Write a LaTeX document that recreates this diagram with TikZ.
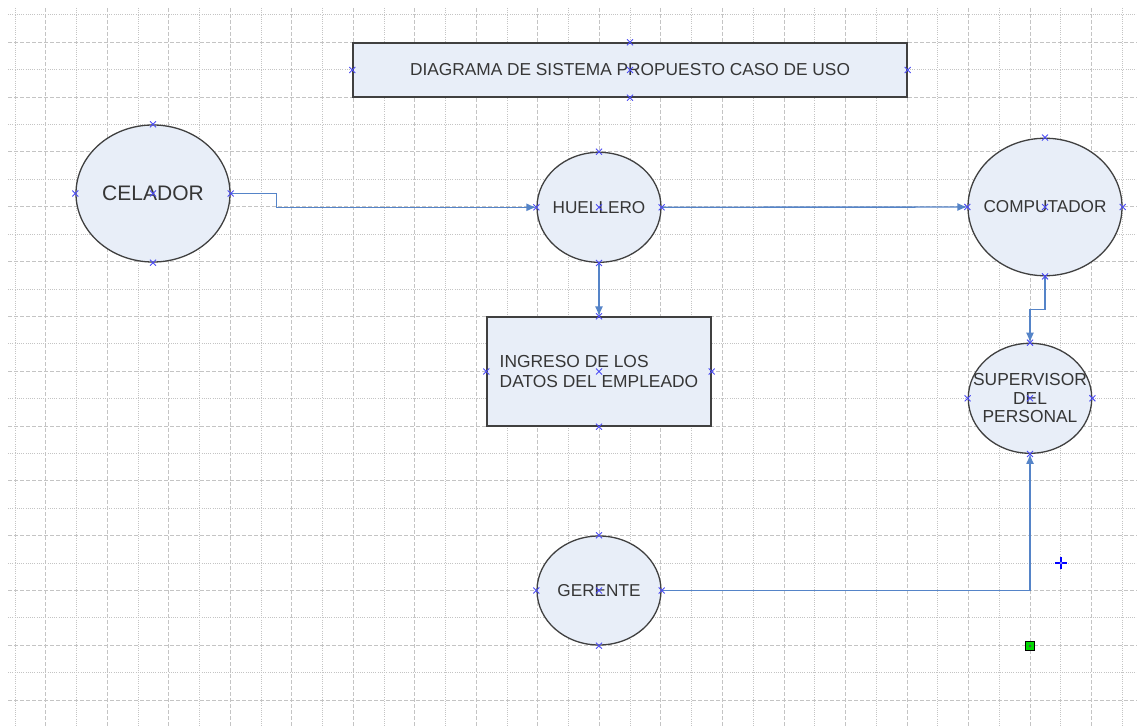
\documentclass[tikz,border=0pt]{standalone}
\usepackage{fontspec}
\setmainfont{Liberation Sans}
\usetikzlibrary{shapes.geometric,arrows.meta}
\definecolor{shapefill}{HTML}{E8EEF8}
\definecolor{shapeline}{HTML}{404040}
\definecolor{conncol}{HTML}{5584C8}
\definecolor{markcol}{HTML}{4C4CF5}
\definecolor{gridcol}{HTML}{C4C4C4}
\definecolor{txtcol}{HTML}{363636}
\tikzset{
  gridmajor/.style={gridcol, line width=1, dash pattern=on 4 off 2},
  gridminor/.style={gridcol, line width=1, dash pattern=on 1 off 1.2},
  ell/.style={ellipse, draw=shapeline, fill=shapefill, line width=1.3, inner sep=0},
  lbl/.style={inner sep=0, text=txtcol, align=center, font=\fontsize{17.2}{18.5}\selectfont},
  box/.style={rectangle, draw=shapeline, fill=shapefill, line width=1.3, inner sep=0, text=txtcol},
  conn/.style={conncol, line width=1.4, -{Latex[length=10,width=8]}},
  mk/.pic={\draw[markcol, line width=0.9] (-3,-3)--(3,3) (-3,3)--(3,-3);}
}
\begin{document}
\begin{tikzpicture}[x=1pt,y=-1pt]
\useasboundingbox (0,0) rectangle (1137,727);
\fill[white] (0,0) rectangle (1137,727);
% grid
\foreach \i in {0,2,...,24} { \draw[gridminor] (8,15+27.4*\i) -- (1137,15+27.4*\i); }
\foreach \i in {1,3,...,25} { \draw[gridmajor] (8,15+27.4*\i) -- (1137,15+27.4*\i); }
\foreach \j in {0,2,...,36} { \draw[gridminor] (15+30.76*\j,8) -- (15+30.76*\j,727); }
\foreach \j in {1,3,...,35} { \draw[gridmajor] (15+30.76*\j,8) -- (15+30.76*\j,727); }

% shapes
\node[box, minimum width=554, minimum height=54, font=\fontsize{17.3}{20}\selectfont] (title) at (630,70) {DIAGRAMA DE SISTEMA PROPUESTO CASO DE USO};
\node[ell, minimum width=154, minimum height=137] (cel) at (153,193.5) {};
\node[lbl, font=\fontsize{21}{24}\selectfont] (celt) at (cel.center) {CELADOR};
\node[ell, minimum width=124, minimum height=110] (hue) at (599,207.3) {};
\node[lbl] (huet) at (hue.center) {HUELLERO};
\node[box, minimum width=224, minimum height=109, align=left, font=\fontsize{17.4}{20}\selectfont] (ing) at (599,371.5) {INGRESO DE LOS\\DATOS DEL EMPLEADO};
\node[ell, minimum width=154, minimum height=137.5] (comp) at (1045,207) {};
\node[lbl] (compt) at (comp.center) {COMPUTADOR};
\node[ell, minimum width=123.5, minimum height=110] (sup) at (1030,398.3) {};
\node[lbl, font=\fontsize{17.4}{18.4}\selectfont] (supt) at (sup.center) {SUPERVISOR\\DEL\\PERSONAL};
\node[ell, minimum width=124, minimum height=109] (ger) at (599,590.5) {};
\node[lbl] (gert) at (ger.center) {GERENTE};

% connectors
\draw[conn] (cel.east) -- ++(46,0) |- (hue.west);
\draw[conn] (hue.east) -- (comp.west);
\draw[conn] (hue.south) -- (ing.north);
\draw[conn] (comp.south) -- ++(0,33) -| (sup.north);
\draw[conn] (ger.east) -| (sup.south);

% connection markers
\foreach \n in {title,cel,hue,ing,comp,sup,ger} {
  \pic at (\n.north) {mk};
  \pic at (\n.south) {mk};
  \pic at (\n.east) {mk};
  \pic at (\n.west) {mk};
  \pic at (\n.center) {mk};
}

% cursor and handle
\coordinate (cross) at (1061,563);
\draw[blue, line width=1.2] ([xshift=-6]cross) -- ([xshift=6]cross) ([yshift=-6]cross) -- ([yshift=6]cross);
\draw[blue, line width=0.8, fill=white] (cross) circle (1.6);
\coordinate (handle) at (1030,646);
\draw[black, line width=1, fill=green!85!black] ([shift={(-4.5,-4.5)}]handle) rectangle ([shift={(4.5,4.5)}]handle);
\fill[black!70] (handle) circle (1.3);
\end{tikzpicture}
\end{document}
